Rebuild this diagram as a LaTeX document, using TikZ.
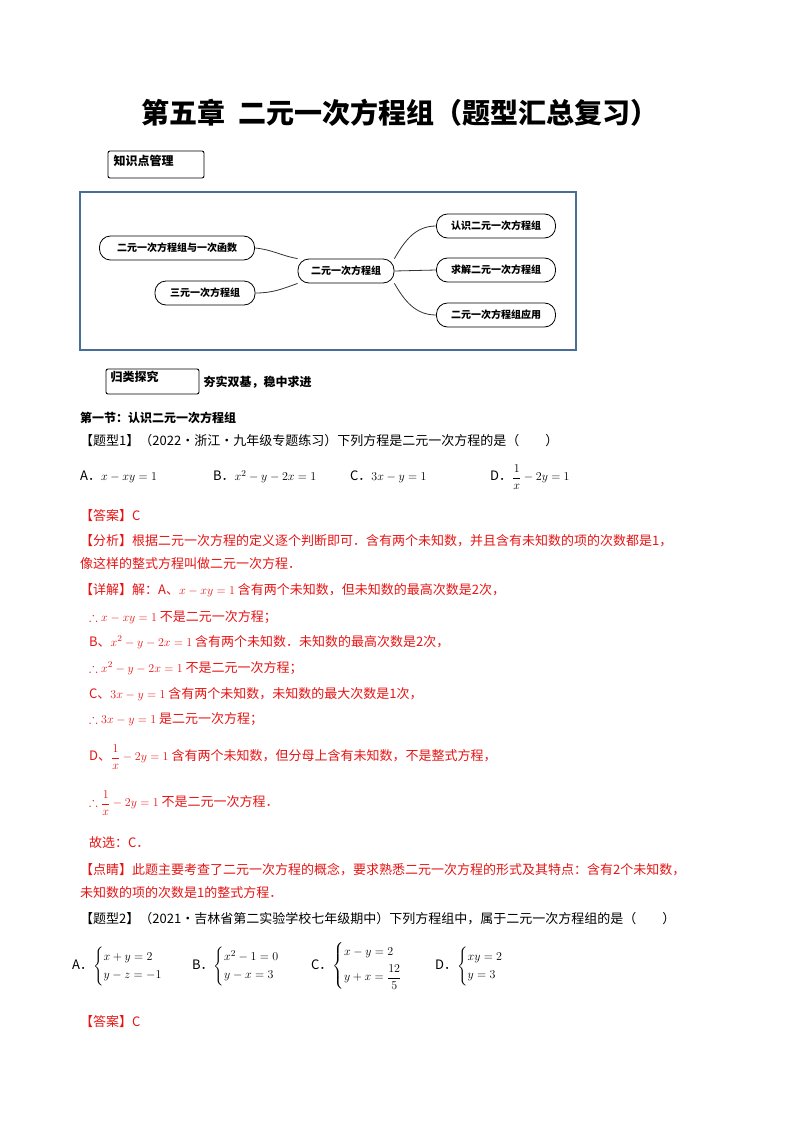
\documentclass[tikz,border=0pt]{standalone}
\usepackage{amsmath,amssymb}
\usepackage{fontspec}
\setmainfont{Noto Sans CJK SC}
\usetikzlibrary{positioning}
\definecolor{ans}{RGB}{230,20,20}
\definecolor{frameblue}{RGB}{70,110,150}
\tikzset{
 txt/.style={anchor=west,inner sep=0pt,font=\fontsize{13}{15}\selectfont},
 red/.style={txt,text=ans},
 mm/.style={draw,rounded corners=11pt,line width=0.8pt,minimum height=24pt,inner xsep=6pt,font=\fontsize{10}{12}\selectfont\bfseries},
 ln/.style={line width=0.8pt,draw=black!80}
}
\begin{document}
\begin{tikzpicture}[x=1pt,y=-1pt]
\useasboundingbox (0,0) rectangle (800,1132);
\node[font=\fontsize{28}{32}\selectfont\bfseries] (title) at (400,113) {第五章\ \ 二元一次方程组（题型汇总复习）};
\draw[line width=0.9pt,rounded corners=2pt] (108,151) rectangle (204,178);
\node[anchor=west,font=\fontsize{12}{14}\selectfont\bfseries] (h1) at (110,161) {知识点管理};
\draw[frameblue,line width=1.2pt] (80,192) rectangle (576,350);
\node[mm,minimum width=96pt] (c) at (346,271) {二元一次方程组};
\node[mm,minimum width=155pt] (l1) at (177,248) {二元一次方程组与一次函数};
\node[mm,minimum width=100pt] (l2) at (205,293) {三元一次方程组};
\node[mm,minimum width=119pt] (r1) at (496,226) {认识二元一次方程组};
\node[mm,minimum width=119pt] (r2) at (496,270) {求解二元一次方程组};
\node[mm,minimum width=119pt] (r3) at (496,315) {二元一次方程组应用};
\draw[ln] (l1.east) to[out=-5,in=170] (c.north west);
\draw[ln] (l2.east) to[out=0,in=200] (c.south west);
\draw[ln] (c.north east) to[out=60,in=180] (r1.west);
\draw[ln] (c.east) -- (r2.west);
\draw[ln] (c.south east) to[out=-60,in=180] (r3.west);
\draw[line width=0.9pt,rounded corners=2pt] (106,369) rectangle (199,394);
\node[anchor=west,font=\fontsize{12}{14}\selectfont\bfseries] (h2) at (107,377) {归类探究};
\node[anchor=west,font=\fontsize{12}{14}\selectfont\bfseries] (h2t) at (200,382) {夯实双基，稳中求进};
\node[txt,font=\fontsize{12}{14}\selectfont\bfseries] (s1) at (80,418) {第一节：认识二元一次方程组};
\node[txt] (q1) at (80,441) {【题型1】（2022·浙江·九年级专题练习）下列方程是二元一次方程的是（\quad\quad）};
\node[txt] (o1) at (80,477) {A．$x-xy=1$};
\node[txt] (o2) at (213,477) {B．$x^2-y-2x=1$};
\node[txt] (o3) at (350,477) {C．$3x-y=1$};
\node[txt] (o4) at (490,477) {D．$\dfrac{1}{x}-2y=1$};
\node[red] (a1) at (80,516) {【答案】C};
\node[red] (f1) at (80,541) {【分析】根据二元一次方程的定义逐个判断即可．含有两个未知数，并且含有未知数的项的次数都是1，};
\node[red] (f2) at (80,564) {像这样的整式方程叫做二元一次方程．};
\node[red] (d1) at (80,590) {【详解】解：A、$x-xy=1$ 含有两个未知数，但未知数的最高次数是2次，};
\node[red] (d2) at (89,617) {$\therefore x-xy=1$ 不是二元一次方程；};
\node[red] (d3) at (89,642) {B、$x^2-y-2x=1$ 含有两个未知数．未知数的最高次数是2次，};
\node[red] (d4) at (89,668) {$\therefore x^2-y-2x=1$ 不是二元一次方程；};
\node[red] (d5) at (89,694) {C、$3x-y=1$ 含有两个未知数，未知数的最大次数是1次，};
\node[red] (d6) at (89,719) {$\therefore 3x-y=1$ 是二元一次方程；};
\node[red] (d7) at (89,757) {D、$\dfrac{1}{x}-2y=1$ 含有两个未知数，但分母上含有未知数，不是整式方程，};
\node[red] (d8) at (89,803) {$\therefore \dfrac{1}{x}-2y=1$ 不是二元一次方程．};
\node[red] (d9) at (89,843) {故选：C．};
\node[red] (p1) at (80,870) {【点睛】此题主要考查了二元一次方程的概念，要求熟悉二元一次方程的形式及其特点：含有2个未知数，};
\node[red] (p2) at (80,893) {未知数的项的次数是1的整式方程．};
\node[txt] (q2) at (80,919) {【题型2】（2021·吉林省第二实验学校七年级期中）下列方程组中，属于二元一次方程组的是（\quad\quad）};
\node[txt] (e1) at (72,966) {A．$\begin{cases}x+y=2\\ y-z=-1\end{cases}$};
\node[txt] (e2) at (192,966) {B．$\begin{cases}x^2-1=0\\ y-x=3\end{cases}$};
\node[txt] (e3) at (311,966) {C．$\begin{cases}x-y=2\\[4pt] y+x=\dfrac{12}{5}\end{cases}$};
\node[txt] (e4) at (435,966) {D．$\begin{cases}xy=2\\ y=3\end{cases}$};
\node[red] (a2) at (80,1022) {【答案】C};
\end{tikzpicture}
\end{document}
